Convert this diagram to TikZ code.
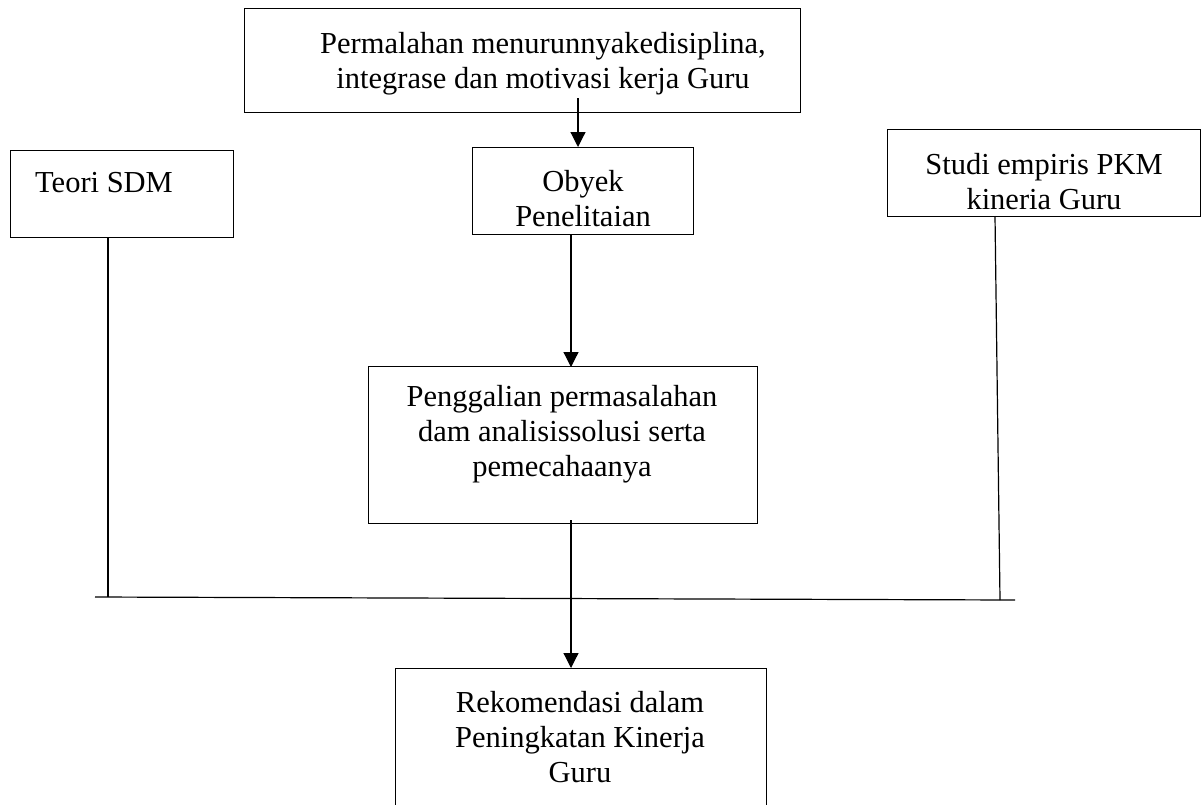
\documentclass[tikz,border=0pt]{standalone}
\usepackage{fontspec}
\setmainfont{Liberation Serif}
\usetikzlibrary{arrows.meta}
\begin{document}
\begin{tikzpicture}[x=1pt,y=-1pt,
  box/.style={draw,line width=1.2pt,inner sep=0pt,anchor=north west},
  txt/.style={font=\fontsize{30.5}{35}\selectfont,align=center,inner sep=0pt},
  conn/.style={line width=1.2pt},
  arr/.style={line width=1.2pt,-{Triangle[length=15pt,width=15pt]}}]
\useasboundingbox (0,0) rectangle (1204,804);
% boxes
\node[box,minimum width=556pt,minimum height=104pt] (top) at (244,8) {};
\node[txt] (toptxt) at (543,64) {Permalahan menurunnyakedisiplina,\\integrase dan motivasi kerja Guru};
\node[box,minimum width=221pt,minimum height=87pt] (obj) at (472,147) {};
\node[txt] (objtxt) at (583,199) {Obyek\\Penelitaian};
\node[box,minimum width=223pt,minimum height=87pt] (teori) at (10,150) {};
\node[txt,anchor=west] (teoritxt) at (35,183) {Teori SDM};
\node[box,minimum width=313pt,minimum height=87pt] (studi) at (887,129) {};
\node[txt] (studitxt) at (1044,182) {Studi empiris PKM\\kineria Guru};
\node[box,minimum width=389pt,minimum height=157pt] (gali) at (368,366) {};
\node[txt] (galitxt) at (562,434) {Penggalian permasalahan\\dam analisissolusi serta\\pemecahaanya};
\node[box,minimum width=371pt,minimum height=150pt] (reko) at (395,668) {};
\node[txt] (rekotxt) at (580,737) {Rekomendasi dalam\\Peningkatan Kinerja\\Guru};
% connectors
\coordinate (s1) at (578,98);
\coordinate (hl) at (95,597);
\coordinate (hr) at (1015,600);
\coordinate (tl) at (108,597);
\coordinate (tr) at (1000,600);
\draw[arr] (s1) -- (s1 |- obj.north);
\draw[arr] (571,234) -- (571,367);
\draw[conn] (hl) -- (hr);
\draw[conn] (108,237) -- (tl);
\draw[conn] (995,216) -- (tr);
\draw[arr] (571,520) -- (571,668);
\end{tikzpicture}
\end{document}
